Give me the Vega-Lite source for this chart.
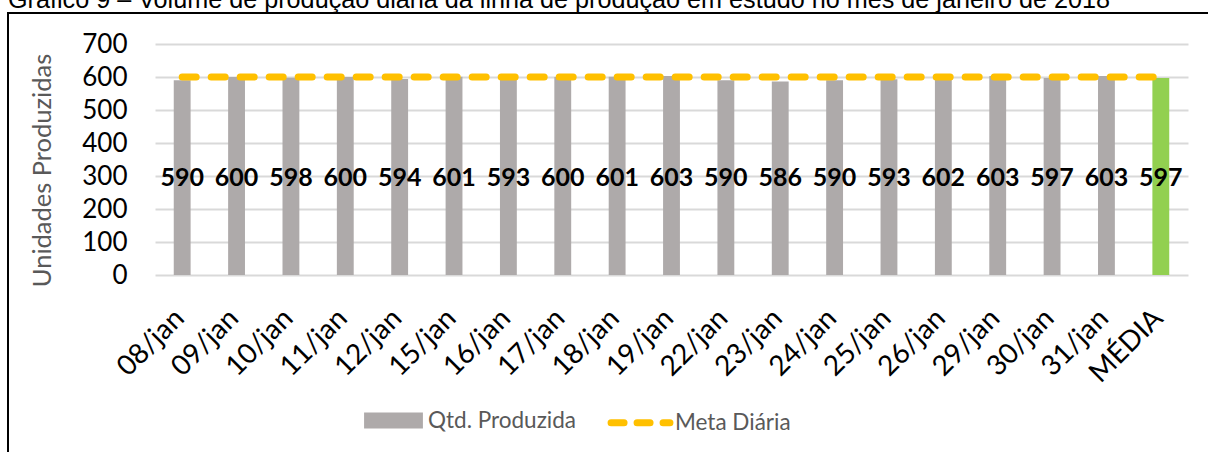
{
  "$schema": "https://vega.github.io/schema/vega-lite/v6.json",
  "autosize": "none",
  "width": 1204,
  "height": 445,
  "padding": {"left": 8, "top": 13, "right": -4, "bottom": -6},
  "background": "white",
  "title": {
    "text": "Gráfico 9 – Volume de produção diária da linha de produção em estudo no mês de janeiro de 2018",
    "anchor": "start",
    "font": "Liberation Sans",
    "fontSize": 25.2,
    "fontWeight": "normal",
    "color": "black",
    "offset": 0,
    "dy": 0
  },
  "config": {
    "view": {"stroke": "black", "strokeWidth": 2},
    "font": "Lato"
  },
  "data": {
    "values": [
      {"dia": "08/jan", "qtd": 590, "meta": 600},
      {"dia": "09/jan", "qtd": 600, "meta": 600},
      {"dia": "10/jan", "qtd": 598, "meta": 600},
      {"dia": "11/jan", "qtd": 600, "meta": 600},
      {"dia": "12/jan", "qtd": 594, "meta": 600},
      {"dia": "15/jan", "qtd": 601, "meta": 600},
      {"dia": "16/jan", "qtd": 593, "meta": 600},
      {"dia": "17/jan", "qtd": 600, "meta": 600},
      {"dia": "18/jan", "qtd": 601, "meta": 600},
      {"dia": "19/jan", "qtd": 603, "meta": 600},
      {"dia": "22/jan", "qtd": 590, "meta": 600},
      {"dia": "23/jan", "qtd": 586, "meta": 600},
      {"dia": "24/jan", "qtd": 590, "meta": 600},
      {"dia": "25/jan", "qtd": 593, "meta": 600},
      {"dia": "26/jan", "qtd": 602, "meta": 600},
      {"dia": "29/jan", "qtd": 603, "meta": 600},
      {"dia": "30/jan", "qtd": 597, "meta": 600},
      {"dia": "31/jan", "qtd": 603, "meta": 600},
      {"dia": "MÉDIA", "qtd": 597, "meta": 600}
    ]
  },
  "encoding": {
    "x": {
      "field": "dia",
      "type": "nominal",
      "sort": null,
      "scale": {"range": [147, 1180], "paddingInner": 0.69, "paddingOuter": 0.345},
      "axis": {
        "title": null,
        "labelAngle": -45,
        "labelFont": "Lato",
        "labelFontSize": 28,
        "labelColor": "black",
        "ticks": false,
        "domain": false,
        "grid": false,
        "offset": -183,
        "labelPadding": 29,
        "labelOffset": -12
      }
    }
  },
  "layer": [
    {
      "mark": {"type": "bar"},
      "encoding": {
        "y": {
          "field": "qtd",
          "type": "quantitative",
          "scale": {"domain": [0, 700], "range": [262, 31]},
          "axis": {
            "title": "Unidades Produzidas",
            "titleFont": "Lato",
            "titleFontSize": 25.5,
            "titleFontWeight": "normal",
            "titleColor": "#595959",
            "titlePadding": 26,
            "titleY": 157,
            "labelFont": "Lato",
            "labelFontSize": 26,
            "labelColor": "black",
            "ticks": false,
            "domain": false,
            "offset": -147,
            "labelPadding": 28,
            "gridColor": "#D9D9D9",
            "gridWidth": 2,
            "values": [0, 100, 200, 300, 400, 500, 600, 700]
          }
        },
        "color": {
          "condition": {"test": "datum.dia === 'MÉDIA'", "value": "#92D050"},
          "datum": "Qtd. Produzida",
          "scale": {"domain": ["Qtd. Produzida", "Meta Diária"], "range": ["#AEAAAA", "#FFC000"]},
          "legend": {
            "orient": "none",
            "legendX": 350,
            "legendY": 372,
            "direction": "horizontal",
            "title": null,
            "labelFont": "Lato",
            "labelFontSize": 22.5,
            "labelColor": "#595959",
            "symbolSize": 4096,
            "symbolStrokeWidth": 7,
            "columnPadding": 21,
            "labelOffset": -1,
            "encode": {
              "symbols": {
                "update": {
                  "shape": {"signal": "datum.value === 'Meta Diária' ? 'M-0.92,0H0.92' : 'M-0.81,-0.14H0.81V0.14H-0.81Z'"},
                  "fill": {"signal": "datum.value === 'Meta Diária' ? 'transparent' : '#AEAAAA'"},
                  "stroke": {"signal": "datum.value === 'Meta Diária' ? '#FFC000' : '#AEAAAA'"},
                  "strokeWidth": {"value": 7},
                  "strokeCap": {"signal": "datum.value === 'Meta Diária' ? 'round' : 'butt'"},
                  "strokeJoin": {"value": "miter"},
                  "strokeDash": {"signal": "datum.value === 'Meta Diária' ? [13, 13] : [1, 0]"},
                  "opacity": {"value": 1},
                  "fillOpacity": {"value": 1},
                  "strokeOpacity": {"value": 1}
                }
              }
            }
          }
        }
      }
    },
    {
      "mark": {"type": "line", "strokeWidth": 7, "strokeCap": "round", "strokeDash": [14, 15]},
      "encoding": {
        "y": {"field": "meta", "type": "quantitative"},
        "color": {"datum": "Meta Diária"}
      }
    },
    {
      "mark": {"type": "text", "font": "Lato", "fontSize": 25, "fontWeight": "bold", "color": "black", "baseline": "middle"},
      "encoding": {
        "y": {"datum": 294, "type": "quantitative"},
        "text": {"field": "qtd", "type": "quantitative"}
      }
    }
  ]
}
